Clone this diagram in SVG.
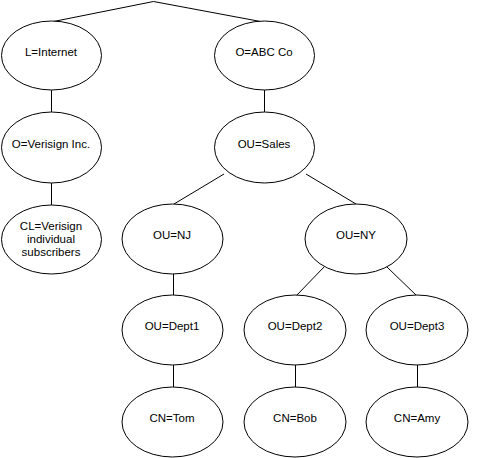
<svg xmlns="http://www.w3.org/2000/svg" width="478" height="458" viewBox="0 0 478 458">
<style>
ellipse{fill:#fff;stroke:#000;stroke-width:1}
.c line,.c polyline{stroke:#000;stroke-width:1;fill:none}
text{font-family:"Liberation Sans",Arial,sans-serif;font-size:11.5px;text-anchor:middle;fill:#000}
</style>
<rect width="478" height="458" fill="#fff"/>
<g class="c" id="connectors">
<polyline points="53.5,21.5 153.5,1.5 260.5,21.5"/>
<line x1="51.5" y1="90" x2="51.5" y2="112"/>
<line x1="51.5" y1="183" x2="51.5" y2="205"/>
<line x1="264.5" y1="90" x2="264.5" y2="112"/>
<line x1="224" y1="174" x2="174" y2="204"/>
<line x1="306" y1="174" x2="356" y2="204"/>
<line x1="173.5" y1="274" x2="173.5" y2="295"/>
<line x1="324" y1="267" x2="296" y2="296"/>
<line x1="387" y1="267" x2="417" y2="296"/>
<line x1="173.5" y1="365" x2="173.5" y2="387"/>
<line x1="295.5" y1="365" x2="295.5" y2="387"/>
<line x1="417.5" y1="365" x2="417.5" y2="387"/>
</g>
<g id="internet"><ellipse cx="51.5" cy="55.5" rx="50" ry="34.5"/><text x="51" y="56">L=Internet</text></g>
<g id="abc"><ellipse cx="264.5" cy="55.5" rx="50" ry="34.5"/><text x="264" y="56">O=ABC Co</text></g>
<g id="verisign"><ellipse cx="51.5" cy="147.5" rx="50" ry="35.5"/><text x="51" y="148">O=Verisign Inc.</text></g>
<g id="sales"><ellipse cx="264.5" cy="147.5" rx="50" ry="35.5"/><text x="264" y="148">OU=Sales</text></g>
<g id="cl"><ellipse cx="51.5" cy="239.5" rx="50" ry="34.5"/><text x="51" y="230">CL=Verisign</text><text x="51" y="243">individual</text><text x="51" y="256">subscribers</text></g>
<g id="nj"><ellipse cx="172.5" cy="239" rx="50.5" ry="35"/><text x="172" y="239">OU=NJ</text></g>
<g id="ny"><ellipse cx="356" cy="239" rx="51" ry="35"/><text x="356" y="239">OU=NY</text></g>
<g id="dept1"><ellipse cx="172.5" cy="330" rx="50.5" ry="35"/><text x="172" y="330">OU=Dept1</text></g>
<g id="dept2"><ellipse cx="295" cy="330" rx="51" ry="35"/><text x="295" y="330">OU=Dept2</text></g>
<g id="dept3"><ellipse cx="417" cy="330" rx="51" ry="35"/><text x="417" y="330">OU=Dept3</text></g>
<g id="tom"><ellipse cx="172.5" cy="422" rx="50.5" ry="35"/><text x="172" y="422">CN=Tom</text></g>
<g id="bob"><ellipse cx="295" cy="422" rx="51" ry="35"/><text x="295" y="422">CN=Bob</text></g>
<g id="amy"><ellipse cx="417" cy="422" rx="51" ry="35"/><text x="417" y="422">CN=Amy</text></g>
</svg>
